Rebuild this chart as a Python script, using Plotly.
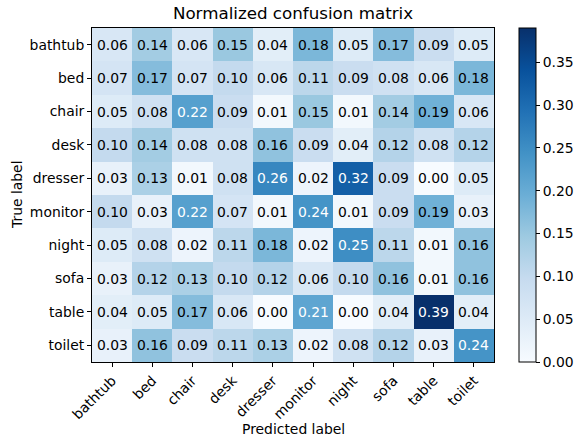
import plotly.graph_objects as go

classes = ["bathtub", "bed", "chair", "desk", "dresser", "monitor", "night", "sofa", "table", "toilet"]

row_bathtub = [0.06, 0.14, 0.06, 0.15, 0.04, 0.18, 0.05, 0.17, 0.09, 0.05]
row_bed     = [0.07, 0.17, 0.07, 0.10, 0.06, 0.11, 0.09, 0.08, 0.06, 0.18]
row_chair   = [0.05, 0.08, 0.22, 0.09, 0.01, 0.15, 0.01, 0.14, 0.19, 0.06]
row_desk    = [0.10, 0.14, 0.08, 0.08, 0.16, 0.09, 0.04, 0.12, 0.08, 0.12]
row_dresser = [0.03, 0.13, 0.01, 0.08, 0.26, 0.02, 0.32, 0.09, 0.00, 0.05]
row_monitor = [0.10, 0.03, 0.22, 0.07, 0.01, 0.24, 0.01, 0.09, 0.19, 0.03]
row_night   = [0.05, 0.08, 0.02, 0.11, 0.18, 0.02, 0.25, 0.11, 0.01, 0.16]
row_sofa    = [0.03, 0.12, 0.13, 0.10, 0.12, 0.06, 0.10, 0.16, 0.01, 0.16]
row_table   = [0.04, 0.05, 0.17, 0.06, 0.00, 0.21, 0.00, 0.04, 0.39, 0.04]
row_toilet  = [0.03, 0.16, 0.09, 0.11, 0.13, 0.02, 0.08, 0.12, 0.03, 0.24]

z = [row_bathtub, row_bed, row_chair, row_desk, row_dresser,
     row_monitor, row_night, row_sofa, row_table, row_toilet]

cbar_ticks = [0.00, 0.05, 0.10, 0.15, 0.20, 0.25, 0.30, 0.35]

blues = ["#f7fbff", "#deebf7", "#c6dbef", "#9ecae1", "#6baed6",
         "#4292c6", "#2171b5", "#08519c", "#08306b"]
colorscale = [[i / (len(blues) - 1), c] for i, c in enumerate(blues)]

zmax = max(max(r) for r in z)
zmin = min(min(r) for r in z)
thresh = zmax / 2.0

FONT = "DejaVu Sans"
FS = 13.9

W, H = 576, 441
L, R, T, B = 92, 82, 28, 79
PW = W - L - R
PH = H - T - B

fig = go.Figure()
fig.add_trace(go.Heatmap(
    z=z, x=classes, y=classes,
    colorscale=colorscale, zmin=zmin, zmax=zmax,
    showscale=True,
    colorbar=dict(
        thickness=17, len=1.0, lenmode="fraction",
        y=0.5, yanchor="middle",
        x=(519 - L) / PW, xanchor="left",
        xpad=0, ypad=0,
        outlinecolor="black", outlinewidth=1,
        tickvals=cbar_ticks, tickformat=".2f",
        ticks="outside", ticklen=4, tickcolor="black",
        tickfont=dict(family=FONT, size=FS, color="black"),
    ),
    hoverinfo="skip",
))

annotations = []
for i, row in enumerate(z):
    for j, v in enumerate(row):
        annotations.append(dict(
            x=classes[j], y=classes[i], text=f"{v:.2f}", showarrow=False,
            font=dict(family=FONT, size=FS, color="white" if v > thresh else "black"),
        ))

annotations.append(dict(x=0.5, y=0, xref="paper", yref="paper",
                        text="Predicted label", showarrow=False, yanchor="middle",
                        yshift=-(429 - (H - B)),
                        font=dict(family=FONT, size=FS, color="black")))
annotations.append(dict(x=0, y=0.5, xref="paper", yref="paper",
                        text="True label", showarrow=False, textangle=-90,
                        xanchor="center", xshift=-(L - 17),
                        font=dict(family=FONT, size=FS, color="black")))

fig.update_layout(
    width=W, height=H,
    margin=dict(l=L, r=R, t=T, b=B, autoexpand=False),
    paper_bgcolor="white", plot_bgcolor="white",
    title=dict(text="Normalized confusion matrix", x=(L + PW / 2) / W, xanchor="center",
               y=1 - 13 / H, yanchor="middle", yref="container",
               font=dict(family=FONT, size=16.7, color="black")),
    annotations=annotations,
    xaxis=dict(tickangle=-45, ticks="outside", ticklen=4, tickcolor="black",
               showline=True, linecolor="black", linewidth=1, mirror=True,
               showgrid=False, zeroline=False, automargin=False,
               tickfont=dict(family=FONT, size=FS, color="black")),
    yaxis=dict(autorange="reversed", ticks="outside", ticklen=4, tickcolor="black",
               showline=True, linecolor="black", linewidth=1, mirror=True,
               showgrid=False, zeroline=False, automargin=False,
               tickfont=dict(family=FONT, size=FS, color="black")),
)

fig.write_html("out.html", config={"displayModeBar": False},
               post_script="document.body.style.margin='0';")
